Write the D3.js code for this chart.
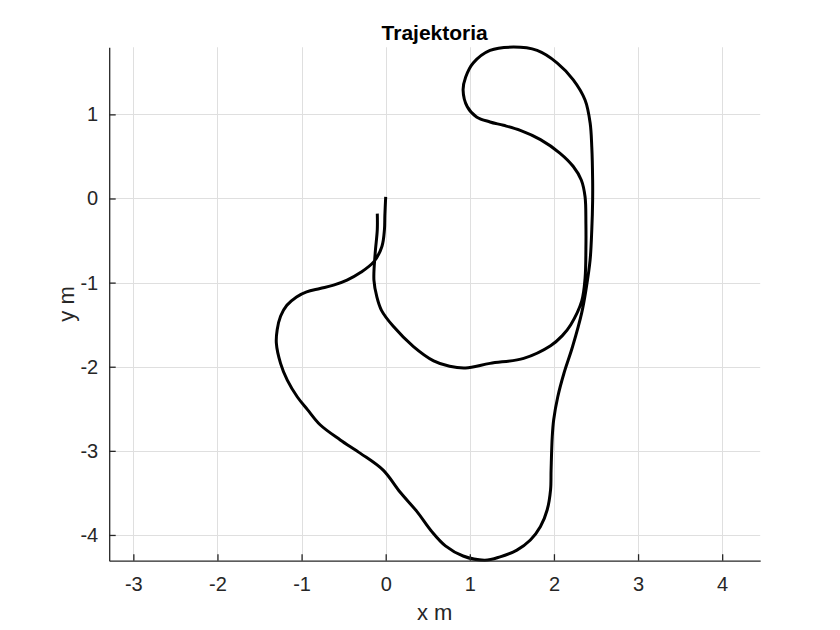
<!DOCTYPE html>
<html>
<head>
<meta charset="utf-8">
<script src="https://cdn.jsdelivr.net/npm/d3@7"></script>
<style>
  html, body { margin: 0; padding: 0; background: #fff; }
  svg { display: block; }
  text { font-family: "Liberation Sans", Arial, Helvetica, sans-serif; fill: #262626; }
</style>
</head>
<body>
<svg id="chart" width="840" height="630"></svg>
<script>
// ---- data (metres) ----
const titleText = "Trajektoria";
const xLabel = "x m";
const yLabel = "y m";
const xTicks = [-3, -2, -1, 0, 1, 2, 3, 4];
const yTicks = [-4, -3, -2, -1, 0, 1];
const xDomain = [-3.287, 4.452];
const yDomain = [-4.306, 1.798];

const trajX = [
  0.00, -0.01, -0.015, -0.045, -0.14, -0.30, -0.46, -0.62, -0.78, -0.94,
  -1.06, -1.175, -1.25, -1.29, -1.30, -1.25, -1.17, -1.05, -0.93, -0.78,
  -0.54, -0.30, -0.03, 0.17, 0.37, 0.54, 0.71, 0.92, 1.18, 1.36,
  1.56, 1.72, 1.84, 1.92, 1.96, 1.966, 1.98, 1.997, 2.045, 2.12,
  2.22, 2.33, 2.38, 2.43, 2.45, 2.46, 2.46, 2.45, 2.43, 2.37,
  2.23, 2.04, 1.80, 1.52, 1.24, 1.04, 0.95, 0.92, 0.97, 1.08,
  1.24, 1.40, 1.60, 1.84, 2.07, 2.23, 2.325, 2.37, 2.38, 2.38,
  2.37, 2.33, 2.20, 2.10, 1.96, 1.64, 1.24, 0.95, 0.76, 0.57,
  0.33, 0.09, -0.05, -0.105, -0.14, -0.125, -0.10, -0.10
];
const trajY = [
  0.02, -0.20, -0.37, -0.57, -0.75, -0.88, -0.97, -1.03, -1.07, -1.11,
  -1.17, -1.27, -1.40, -1.56, -1.72, -1.96, -2.16, -2.36, -2.51, -2.69,
  -2.87, -3.03, -3.23, -3.49, -3.72, -3.95, -4.13, -4.25, -4.30, -4.26,
  -4.18, -4.06, -3.90, -3.70, -3.46, -3.23, -2.83, -2.63, -2.36, -2.075,
  -1.766, -1.36, -1.09, -0.73, -0.37, -0.02, 0.22, 0.61, 0.90, 1.17,
  1.41, 1.61, 1.76, 1.80, 1.76, 1.61, 1.44, 1.29, 1.09, 0.97,
  0.91, 0.87, 0.81, 0.70, 0.54, 0.38, 0.22, 0.02, -0.30, -0.60,
  -0.95, -1.22, -1.50, -1.63, -1.75, -1.90, -1.96, -2.015, -1.995, -1.93,
  -1.76, -1.52, -1.33, -1.17, -0.97, -0.65, -0.37, -0.18
];

// ---- layout ----
const svg = d3.select("#chart");
const pLeft = 109.2, pRight = 760.2, pTop = 47.25, pBottom = 560.7;

const x = d3.scaleLinear().domain(xDomain).range([pLeft, pRight]);
const y = d3.scaleLinear().domain(yDomain).range([pBottom, pTop]);

svg.append("rect").attr("width", 840).attr("height", 630).attr("fill", "#fff");

// grid
const grid = svg.append("g").attr("stroke", "#dfdfdf").attr("stroke-width", 1);
grid.selectAll("line.gx").data(xTicks).join("line").attr("class", "gx")
  .attr("x1", d => Math.round(x(d)) + 0.5).attr("x2", d => Math.round(x(d)) + 0.5)
  .attr("y1", pTop).attr("y2", pBottom);
grid.selectAll("line.gy").data(yTicks).join("line").attr("class", "gy")
  .attr("y1", d => Math.round(y(d)) + 0.5).attr("y2", d => Math.round(y(d)) + 0.5)
  .attr("x1", pLeft).attr("x2", pRight);

// trajectory
const pts = trajX.map((v, i) => [v, trajY[i]]);
const line = d3.line().x(d => x(d[0])).y(d => y(d[1])).curve(d3.curveCatmullRom.alpha(0.5));
svg.append("path").datum(pts)
  .attr("d", line)
  .attr("fill", "none")
  .attr("stroke", "#000")
  .attr("stroke-width", 3)
  .attr("stroke-linejoin", "round");

// axes
const fmt = d => String(d);
const xAxis = d3.axisBottom(x).tickValues(xTicks).tickFormat(fmt)
  .tickSizeInner(-6.5).tickSizeOuter(0).tickPadding(16);
const gx = svg.append("g").attr("transform", `translate(0,${pBottom})`).call(xAxis);
const yAxis = d3.axisLeft(y).tickValues(yTicks).tickFormat(fmt)
  .tickSizeInner(-6.5).tickSizeOuter(0).tickPadding(11);
const gy = svg.append("g").attr("transform", `translate(${pLeft},0)`).call(yAxis);

[gx, gy].forEach(g => {
  g.select(".domain").attr("stroke", "#262626").attr("stroke-width", 1.3);
  g.selectAll(".tick line").attr("stroke", "#262626").attr("stroke-width", 1.3);
  g.selectAll(".tick text").attr("fill", "#262626")
    .style("font-size", "20px").style("font-family", '"Liberation Sans", Arial, sans-serif');
});

// labels
svg.append("text").attr("x", (pLeft + pRight) / 2).attr("y", 620)
  .attr("text-anchor", "middle").style("font-size", "22px").text(xLabel);
svg.append("text").attr("transform", `translate(74,${(pTop + pBottom) / 2}) rotate(-90)`)
  .attr("text-anchor", "middle").style("font-size", "22px").text(yLabel);
svg.append("text").attr("x", (pLeft + pRight) / 2).attr("y", 39.5)
  .attr("text-anchor", "middle").style("font-size", "21px").style("font-weight", "bold")
  .style("fill", "#000").text(titleText);
</script>
</body>
</html>
